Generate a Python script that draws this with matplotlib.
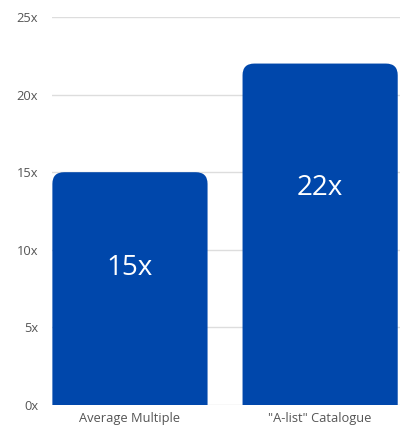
import matplotlib
matplotlib.use("Agg")
import matplotlib.pyplot as plt
from matplotlib.patches import PathPatch
from matplotlib.path import Path

categories = ["Average Multiple", '"A-list" Catalogue']
values = [15, 22]
value_labels = ["15x", "22x"]
yticks = [0, 5, 10, 15, 20, 25]
ytick_labels = ["0x", "5x", "10x", "15x", "20x", "25x"]

plt.rcParams['font.family'] = ['Open Sans', 'DejaVu Sans']
color = "#0047AB"

fig = plt.figure(figsize=(4.07, 4.28), dpi=100)
ax = fig.add_axes([52/407, 23/428, 348/407, 388/428])

xs = list(range(len(categories)))
width = 0.816
bars = ax.bar(xs, values, width=width, color=color, zorder=2)
ax.set_xlim(-0.41, 1.42)
ax.set_ylim(0, 25)

# rounded top corners built from each bar's geometry
rx = 0.062
ry = 0.75
for b in bars:
    x0, w, h = b.get_x(), b.get_width(), b.get_height()
    x1 = x0 + w
    b.set_visible(False)
    verts = [(x0, 0), (x1, 0), (x1, h - ry), (x1, h), (x1 - rx, h),
             (x0 + rx, h), (x0, h), (x0, h - ry), (x0, 0)]
    codes = [Path.MOVETO, Path.LINETO, Path.LINETO, Path.CURVE3, Path.CURVE3,
             Path.LINETO, Path.CURVE3, Path.CURVE3, Path.CLOSEPOLY]
    ax.add_patch(PathPatch(Path(verts, codes), facecolor=color, edgecolor='none',
                           zorder=2))

label_frac = [0.59, 0.635]
for x, v, lab, f in zip(xs, values, value_labels, label_frac):
    ax.text(x, v*f, lab, ha='center', va='center', color='white', fontsize=20, zorder=3)

ax.set_yticks(yticks)
ax.set_yticklabels(ytick_labels)
ax.set_xticks(xs)
ax.set_xticklabels(categories)
ax.grid(axis='y', color='#dddddd', linewidth=1, zorder=0)
for s in ax.spines.values():
    s.set_visible(False)
ax.tick_params(axis='both', length=0, labelsize=9.3, colors='#555555')
ax.tick_params(axis='y', pad=10)
ax.tick_params(axis='x', pad=5)

fig.savefig("out.png", dpi=100)
